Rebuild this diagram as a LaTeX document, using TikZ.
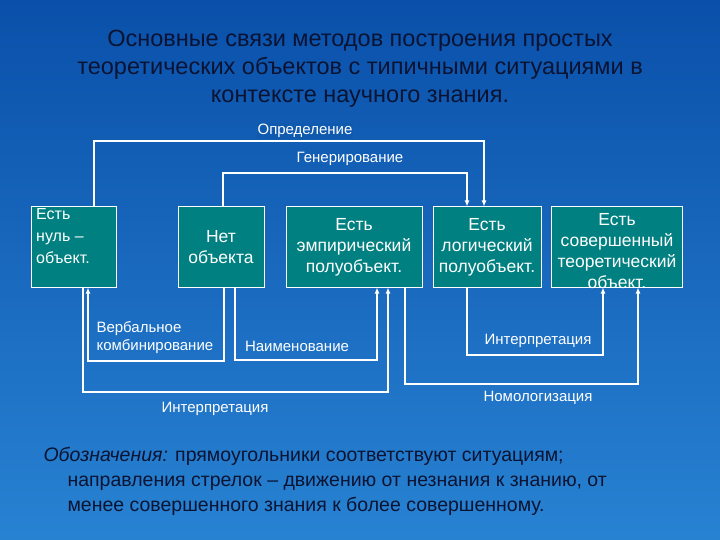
\documentclass[tikz,border=0pt]{standalone}
\usepackage{fontspec}
\setmainfont{Liberation Sans}
\begin{document}
\begin{tikzpicture}[x=1pt,y=-1pt,
 box/.style={draw=white,line width=1pt,fill={rgb,255:red,0;green,128;blue,128},text=white,font=\fontsize{17.5}{21}\selectfont,align=center,inner sep=0pt},
 btext/.style={text=white,inner sep=0pt},
 lab/.style={text=white,font=\fontsize{15}{18}\selectfont},
 ln/.style={white,line width=1.2pt},
 ar/.style={ln,-{Latex[length=6pt,width=5pt]}}]
\usetikzlibrary{arrows.meta}
\shade[top color={rgb,255:red,10;green,80;blue,170},bottom color={rgb,255:red,40;green,130;blue,210}] (0,0) rectangle (720,540);
\useasboundingbox (0,0) rectangle (720,540);
\node[font=\fontsize{23.5}{28}\selectfont,text={rgb,255:red,10;green,20;blue,50},align=center] (title) at (360,69) {Основные связи методов построения простых\\теоретических объектов с типичными ситуациями в\\контексте научного знания.};
\node[box,minimum width=85pt,minimum height=80pt] (b1) at (74,247) {};
\node[btext,align=left,anchor=north west,font=\fontsize{16}{22}\selectfont] (b1t) at (36,208) {Есть\\нуль –\\объект.};
\node[box,minimum width=86pt,minimum height=80pt] (b2) at (221,247) {Нет\\объекта};
\node[box,minimum width=136pt,minimum height=80pt] (b3) at (354,247) {Есть\\эмпирический\\полуобъект.};
\node[box,minimum width=108pt,minimum height=80pt] (b4) at (487,247) {Есть\\логический\\полуобъект.};
\node[box,minimum width=131pt,minimum height=80pt] (b5) at (617,247) {};
\node[btext,align=center,font=\fontsize{17.5}{21}\selectfont,text depth=0pt] (b5t) at (617,251) {Есть\\совершенный\\теоретический\\объект.};
\coordinate (c1) at (94,141); \coordinate (c2) at (484,141);
\draw[ar] (b1.north -| c1) -- (c1) -- (c2) -- (b4.north -| c2);
\coordinate (g1) at (223,173); \coordinate (g2) at (467,173);
\draw[ar] (b2.north -| g1) -- (g1) -- (g2) -- (b4.north -| g2);
\coordinate (v1) at (224,361); \coordinate (v2) at (88,361);
\draw[ar] (b2.south -| v1) -- (v1) -- (v2) -- (b1.south -| v2);
\coordinate (n1) at (235,360); \coordinate (n2) at (377,360);
\draw[ar] (b2.south -| n1) -- (n1) -- (n2) -- (b3.south -| n2);
\coordinate (i1) at (83,392); \coordinate (i2) at (388,392);
\draw[ar] (b1.south -| i1) -- (i1) -- (i2) -- (b3.south -| i2);
\coordinate (m1) at (405,384); \coordinate (m2) at (638,384);
\draw[ar] (b3.south -| m1) -- (m1) -- (m2) -- (b5.south -| m2);
\coordinate (r1) at (467,355); \coordinate (r2) at (603,355);
\draw[ar] (b4.south -| r1) -- (r1) -- (r2) -- (b5.south -| r2);
\node[lab,fill={rgb,255:red,15;green,90;blue,175},inner sep=1pt] (l1) at (305,131) {Определение};
\node[lab] (l2) at (350,159) {Генерирование};
\node[lab,align=left,anchor=west] (l3) at (93,338) {Вербальное\\комбинирование};
\node[lab] (l4) at (297,346) {Наименование};
\node[lab] (l5) at (215,409) {Интерпретация};
\node[lab] (l6) at (538,341) {Интерпретация};
\node[lab] (l7) at (538,398) {Номологизация};
\node[anchor=north west,align=left,font=\fontsize{19.5}{25}\selectfont,text={rgb,255:red,10;green,20;blue,50}] (leg) at (40,444) {\textit{Обозначения:} прямоугольники соответствуют ситуациям;\\\hspace*{24pt}направления стрелок – движению от незнания к знанию, от\\\hspace*{24pt}менее совершенного знания к более совершенному.};
\end{tikzpicture}
\end{document}
